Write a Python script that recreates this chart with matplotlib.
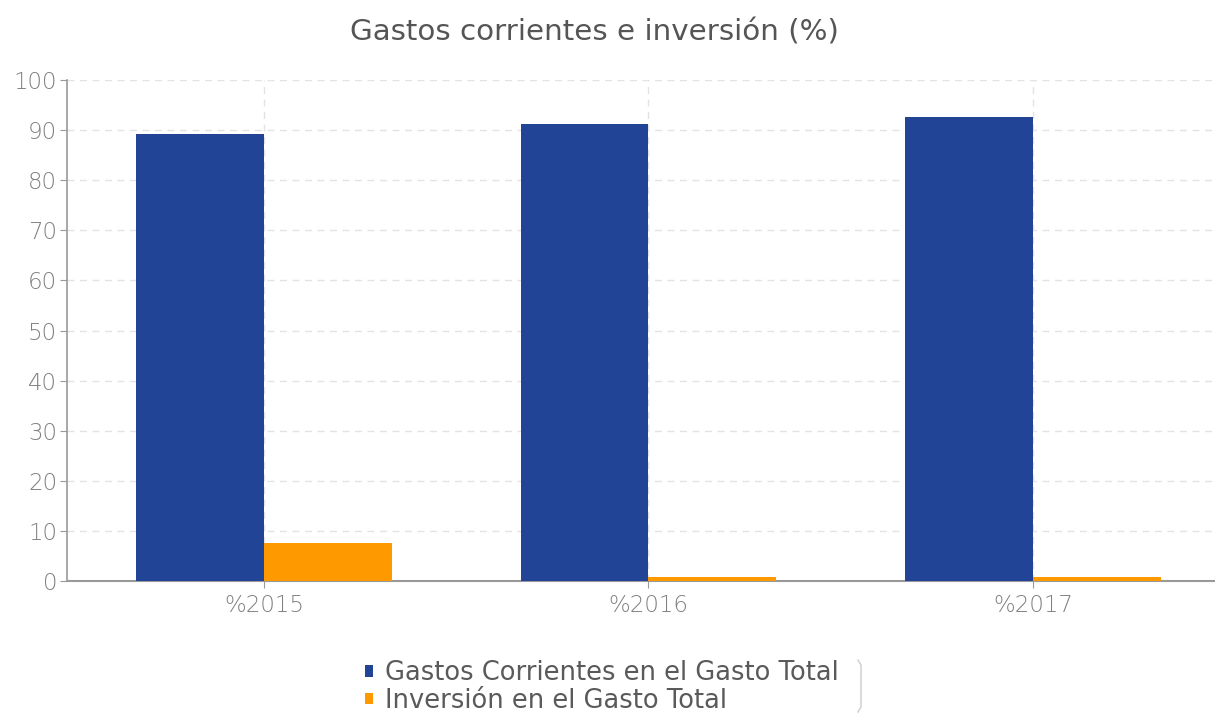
import numpy as np
import matplotlib.pyplot as plt

categories = ['%2015', '%2016', '%2017']
gastos_corrientes = [89.2, 91.2, 92.6]
inversion = [7.6, 0.8, 0.8]
yticks = list(range(0, 101, 10))

BLUE = '#214497'
ORANGE = '#ff9900'
GRAY = '#808080'

plt.rcParams['font.family'] = ['DejaVu Sans']

fig = plt.figure(figsize=(12.15, 7.14), dpi=100)
ax = fig.add_axes([67 / 1215, 1 - 581 / 714, (1215 - 67) / 1215, (581 - 80) / 714])

x = np.arange(len(categories))
w = 0.332
ax.bar(x - w / 2, gastos_corrientes, w, color=BLUE, label='Gastos Corrientes en el Gasto Total', zorder=3)
ax.bar(x + w / 2, inversion, w, color=ORANGE, label='Inversión en el Gasto Total', zorder=3)

ax.set_xlim(-0.512, 2.473)
ax.set_ylim(0, 100)
ax.set_yticks(yticks)
ax.set_xticks(x)
ax.set_xticklabels(categories)

# dashed grid
ax.grid(True, axis='both', linestyle=(0, (5, 4)), color='#e3e3e3', linewidth=1, zorder=0)

for s in ['top', 'right']:
    ax.spines[s].set_visible(False)
ax.spines['left'].set_color('#999999')
ax.spines['bottom'].set_color('#999999')
ax.spines['left'].set_linewidth(1.2)
ax.spines['bottom'].set_linewidth(1.5)
ax.tick_params(axis='y', colors='#999999', labelcolor=GRAY, labelsize=16.5, length=5, pad=2)
ax.tick_params(axis='x', colors='#999999', labelcolor=GRAY, labelsize=16.5, length=5, pad=4)
for lbl in ax.get_xticklabels() + ax.get_yticklabels():
    lbl.set_fontweight('light')

fig.text(594 / 1215, 1 - 33 / 714, 'Gastos corrientes e inversión (%)', ha='center', va='center',
         fontsize=21.2, color='#555555')

leg = fig.legend(loc='center', bbox_to_anchor=(602 / 1215, 1 - 687 / 714), frameon=False,
                 fontsize=18.5, handlelength=0.3, handleheight=0.3, handletextpad=0.5,
                 labelspacing=0.05, borderpad=0, ncol=1)
for t in leg.get_texts():
    t.set_color('#5a5a5a')

# right edge of the legend box
fig.add_artist(plt.Line2D([858 / 1215, 861 / 1215, 861 / 1215, 858 / 1215],
                          [1 - 660 / 714, 1 - 665 / 714, 1 - 707 / 714, 1 - 712 / 714],
                          color='#cccccc', linewidth=1))

fig.savefig('out.png', dpi=100)
